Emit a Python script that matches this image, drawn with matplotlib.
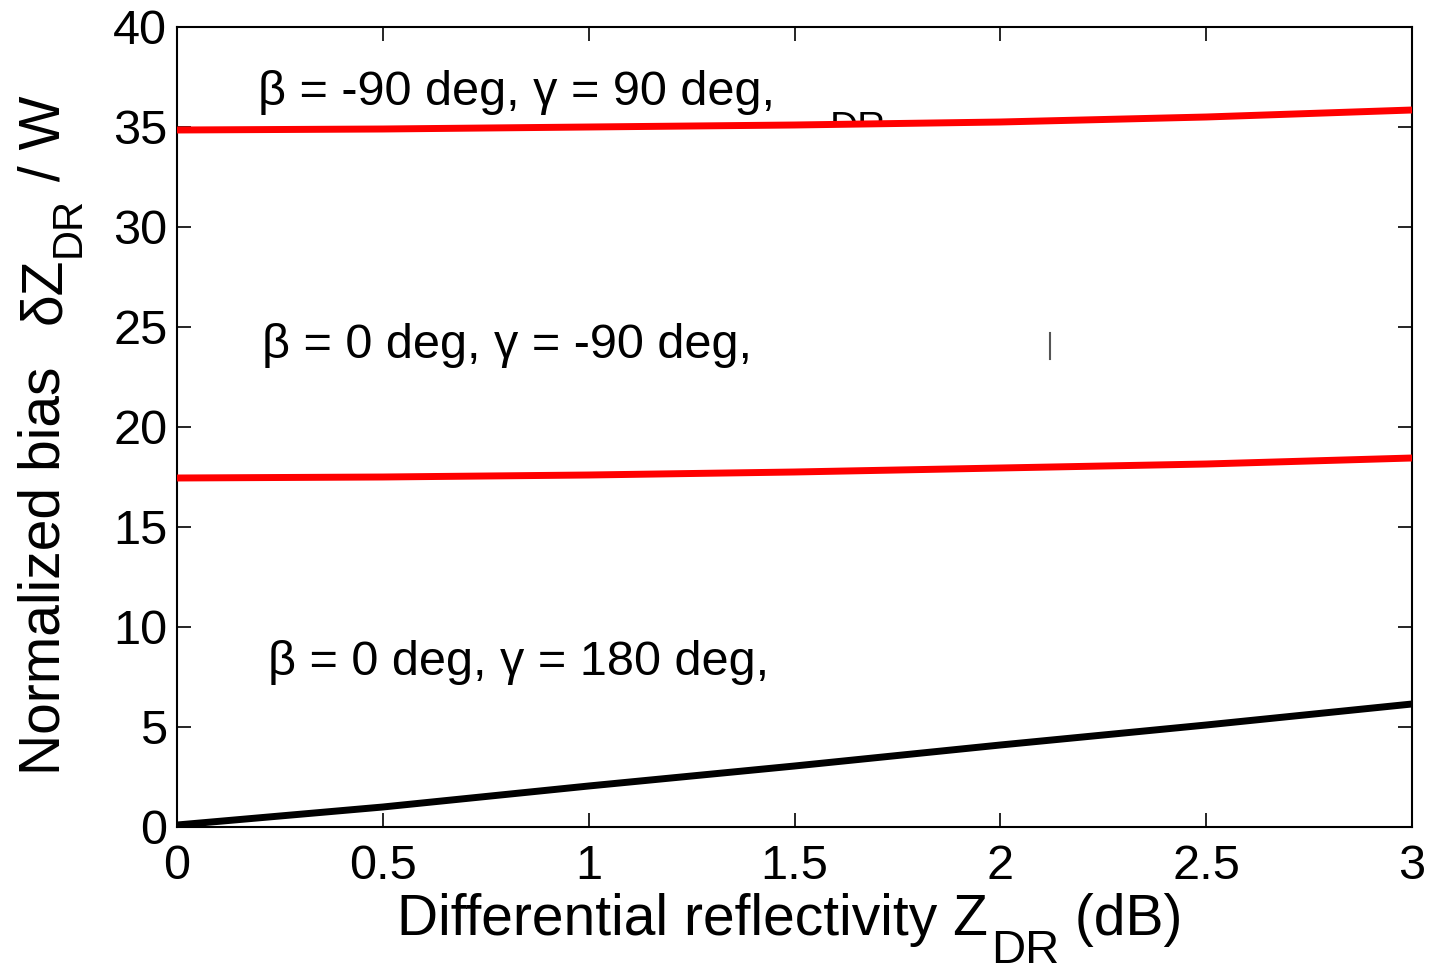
import matplotlib
matplotlib.use("Agg")
import matplotlib.pyplot as plt
from matplotlib.transforms import IdentityTransform, Bbox, TransformedBbox

plt.rcParams['font.family'] = ['Liberation Sans', 'DejaVu Sans']

# Differential reflectivity (dB)
zdr = [0.0, 0.5, 1.0, 1.5, 2.0, 2.5, 3.0]
# Normalized bias for each (beta, gamma) case
bias_b_m90_g90 = [34.85, 34.9, 35.0, 35.1, 35.25, 35.5, 35.85]
bias_b0_g_m90 = [17.45, 17.5, 17.6, 17.75, 17.95, 18.15, 18.45]
bias_b0_g180 = [0.1, 1.0, 2.05, 3.05, 4.1, 5.1, 6.15]

xticks = [0, 0.5, 1, 1.5, 2, 2.5, 3]
xticklabels = ['0', '0.5', '1', '1.5', '2', '2.5', '3']
yticks = [0, 5, 10, 15, 20, 25, 30, 35, 40]

labels = ['\u03b2 = -90 deg, \u03b3 = 90 deg,',
          '\u03b2 = 0 deg, \u03b3 = -90 deg,',
          '\u03b2 = 0 deg, \u03b3 = 180 deg,']

W, H = 1430, 973
fig = plt.figure(figsize=(W / 100, H / 100), dpi=100)
ax = fig.add_axes([177 / W, 1 - 827 / H, 1235 / W, 800 / H])

ax.plot(zdr, bias_b_m90_g90, color='red', lw=5, solid_capstyle='butt', zorder=3)
ax.plot(zdr, bias_b0_g_m90, color='red', lw=5, solid_capstyle='butt', zorder=3)
ax.plot(zdr, bias_b0_g180, color='black', lw=5, solid_capstyle='butt', zorder=3)

ax.set_xlim(0, 3)
ax.set_ylim(0, 40)
ax.set_xticks(xticks)
ax.set_xticklabels(xticklabels)
ax.set_yticks(yticks)
ax.tick_params(direction='in', length=10, width=1.2, top=True, right=True,
               labelsize=35, pad=7)
ax.tick_params(axis='x', pad=12)
for s in ax.spines.values():
    s.set_linewidth(1.5)

ax.text(0.197, 36.1, labels[0], fontsize=35, va='baseline')
ax.text(0.207, 23.45, labels[1], fontsize=35, va='baseline')
ax.text(0.221, 7.6, labels[2], fontsize=35, va='baseline')

# subscript fragment peeking out above the upper curve
frag = ax.text(1.585, 34.4, 'DR', fontsize=28, va='baseline', zorder=2)
frag.set_clip_path(None)
frag.set_clip_box(TransformedBbox(Bbox([[1.55, 35.0], [1.75, 35.75]]), ax.transData))
frag.set_clip_on(True)
# short separator stroke inside the middle label
ax.plot([2.12, 2.12], [23.4, 24.7], color='#555555', lw=1.5)

renderer = fig.canvas.get_renderer()
px = IdentityTransform()


def width_of(t):
    return t.get_window_extent(renderer).width


def height_of(t):
    return t.get_window_extent(renderer).height


# x-axis label with a lowered, large subscript: (text, size, drop, gap after)
xl_parts = [('Differential reflectivity Z', 41, 0, 3),
            ('DR', 34, -28, 0),
            (' (dB)', 41, 0, 0)]
xl_texts = []
x0 = 0.0
for s, fs, dy, gap in xl_parts:
    t = fig.text(x0, H - 935 + dy, s, fontsize=fs, ha='left', va='baseline',
                 transform=px)
    x0 += width_of(t) + gap
    xl_texts.append(t)
shift = 790 - x0 / 2
for t in xl_texts:
    xx, yy = t.get_position()
    t.set_position((xx + shift, yy))

# y-axis label, read bottom to top: (text, size, offset, gap after)
yl_parts = [('Normalized bias', 41, 0, 43),
            ('\u03b4Z', 41, 0, 0),
            ('DR', 30, 20, 0),
            (' / W', 41, 0, 0)]
y0 = H - 775
for s, fs, dx, gap in yl_parts:
    t = fig.text(60 + dx, y0, s, fontsize=fs, rotation=90, rotation_mode='anchor',
                 ha='left', va='baseline', transform=px)
    y0 += height_of(t) + gap

fig.savefig('out.png', dpi=100)
